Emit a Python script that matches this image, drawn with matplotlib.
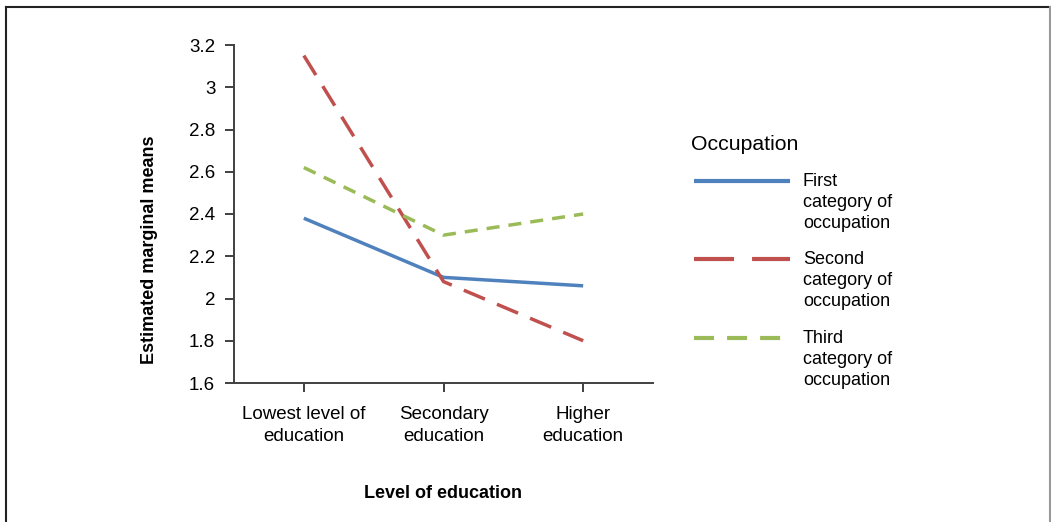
import matplotlib
matplotlib.use("Agg")
import matplotlib.pyplot as plt
from matplotlib.lines import Line2D

plt.rcParams['font.family'] = ['Liberation Sans', 'DejaVu Sans']
plt.rcParams['lines.scale_dashes'] = False

categories = ["Lowest level of\neducation", "Secondary\neducation", "Higher\neducation"]
first_cat = [2.38, 2.10, 2.06]
second_cat = [3.15, 2.08, 1.80]
third_cat = [2.62, 2.30, 2.40]
series_labels = ["First\ncategory of\noccupation", "Second\ncategory of\noccupation", "Third\ncategory of\noccupation"]
y_ticks = [1.6, 1.8, 2.0, 2.2, 2.4, 2.6, 2.8, 3.0, 3.2]
y_tick_labels = ["1.6", "1.8", "2", "2.2", "2.4", "2.6", "2.8", "3", "3.2"]

colors = ["#4F81BD", "#C0504D", "#9BBB59"]
plot_dashes = [None, (16.5, 9.4), (9.4, 6.5)]
legend_dashes = [None, (28.8, 13), (14.4, 9.4)]
lw = 2.5

W, H = 1051, 522
fig = plt.figure(figsize=(W / 100, H / 100), dpi=100)
ax = fig.add_axes([234 / W, 1 - 383 / H, (653 - 234) / W, (383 - 45) / H])

x = list(range(len(categories)))
for vals, c, d in zip([first_cat, second_cat, third_cat], colors, plot_dashes):
    line, = ax.plot(x, vals, color=c, lw=lw, solid_capstyle='butt', dash_capstyle='butt')
    if d is not None:
        line.set_dashes(d)

ax.set_xlim(-0.5, 2.5)
ax.set_ylim(1.6, 3.2)
ax.set_yticks(y_ticks)
ax.set_yticklabels(y_tick_labels)
ax.set_xticks(x)
ax.set_xticklabels(categories, linespacing=1.36)

for s in ['top', 'right']:
    ax.spines[s].set_visible(False)
for s in ['left', 'bottom']:
    ax.spines[s].set_color('#404040')
    ax.spines[s].set_linewidth(1.4)

ax.tick_params(axis='y', direction='out', length=6.5, width=1.4, color='#404040',
               labelsize=13.5, pad=7)
ax.tick_params(axis='x', direction='out', length=6.5, width=1.4, color='#404040',
               labelsize=13.5, pad=10)

fig.text(150 / W, 1 - 250 / H, "Estimated marginal means", rotation=90, ha='center',
         va='center', fontsize=13, fontweight='bold')
fig.text(443 / W, 1 - 493 / H, "Level of education", ha='center', va='center',
         fontsize=13, fontweight='bold')

# legend
fig.text(691 / W, 1 - 145 / H, "Occupation", ha='left', va='center', fontsize=15.3)
handle_y = [181, 259, 338]
for lab, c, d, hy in zip(series_labels, colors, legend_dashes, handle_y):
    ln = Line2D([694 / W, 790 / W], [1 - hy / H, 1 - hy / H], transform=fig.transFigure,
                color=c, lw=3.0, solid_capstyle='butt', dash_capstyle='butt')
    if d is not None:
        ln.set_dashes(d)
    fig.add_artist(ln)
    fig.text(803 / W, 1 - (hy - 8) / H, lab, ha='left', va='top', fontsize=13,
             linespacing=1.3)

# frame
fig.add_artist(Line2D([5.5 / W, 5.5 / W], [0, 1 - 7 / H], transform=fig.transFigure,
                      color='#222222', lw=1.5))
fig.add_artist(Line2D([5.5 / W, 1050 / W], [1 - 7 / H, 1 - 7 / H], transform=fig.transFigure,
                      color='#222222', lw=1.5))
fig.add_artist(Line2D([1050 / W, 1050 / W], [0, 1 - 7 / H], transform=fig.transFigure,
                      color='#999999', lw=1.5))

fig.savefig("out.png", dpi=100)
